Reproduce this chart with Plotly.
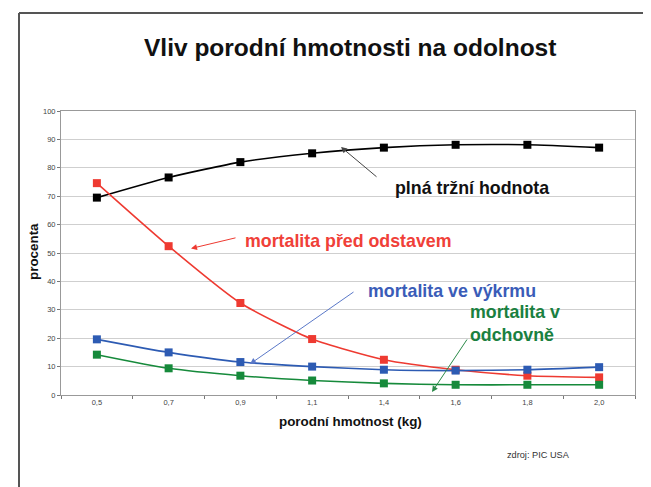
import plotly.graph_objects as go

categories = ["0,5", "0,7", "0,9", "1,1", "1,4", "1,6", "1,8", "2,0"]
plna_trzni = [69.5, 76.6, 82.0, 85.1, 87.1, 88.1, 88.1, 87.1]
mort_pred_odstavem = [74.6, 52.4, 32.4, 19.7, 12.4, 8.9, 6.8, 6.2]
mort_vykrm = [19.6, 15.0, 11.6, 10.0, 8.9, 8.6, 8.9, 9.8]
mort_odchovna = [14.2, 9.4, 6.8, 5.1, 4.1, 3.6, 3.6, 3.6]
y_ticks = list(range(0, 101, 10))

OFF = 8  # page body margin
W, H = 651 - OFF, 487 - OFF
L, R, T, B = 61, 635, 111, 395  # plot area in screen pixels

def px(x):
    return (x - L) / (R - L)

def py(y):
    return (B - y) / (B - T)

FONT = "Liberation Sans, Arial, sans-serif"
RED = "#ee3a31"
BLUE = "#2d5bb3"
GREEN = "#168a3b"

fig = go.Figure()
series = [
    (plna_trzni, "#000000", "plná tržní hodnota"),
    (mort_pred_odstavem, RED, "mortalita před odstavem"),
    (mort_vykrm, BLUE, "mortalita ve výkrmu"),
    (mort_odchovna, GREEN, "mortalita v odchovně"),
]
for vals, col, name in series:
    fig.add_trace(go.Scatter(
        x=categories, y=vals, mode="lines+markers", name=name,
        line=dict(color=col, width=1.6, shape="spline", smoothing=0.6),
        marker=dict(symbol="square", size=8, color=col),
        showlegend=False,
    ))

ann = []
ann.append(dict(text="<b>Vliv porodní hmotnosti na odolnost</b>", xref="paper", yref="paper",
                x=px(350), y=py(47), showarrow=False, xanchor="center", yanchor="middle",
                font=dict(family=FONT, size=24.5, color="#111")))

def label(text, x, y, col, size=17.8, anchor="left"):
    ann.append(dict(text=text, xref="paper", yref="paper", x=px(x), y=py(y),
                    showarrow=False, xanchor=anchor, yanchor="middle", align="left",
                    font=dict(family=FONT, size=size, color=col)))

label("<b>plná tržní hodnota</b>", 393, 188, "#111")
label("<b>mortalita před odstavem</b>", 243, 241, "#f04038")
label("<b>mortalita ve výkrmu</b>", 366, 291, "#3a5cb8")
label("<b>mortalita v<br>odchovně</b>", 468, 323, "#1a8040")
ann.append(dict(text="zdroj: PIC USA", xref="paper", yref="paper", x=px(505), y=py(455),
                showarrow=False, xanchor="left", yanchor="middle",
                font=dict(family=FONT, size=9.2, color="#333")))

def arrow(hx, hy, tx, ty, col):
    ann.append(dict(text="", xref="paper", yref="paper", x=px(hx), y=py(hy),
                    ax=tx - hx, ay=ty - hy, showarrow=True, arrowhead=2,
                    arrowsize=1.2, arrowwidth=1, arrowcolor=col))

arrow(341, 147, 378, 178, "#444")
arrow(191, 248.5, 237, 237.5, RED)
arrow(250, 364, 355, 291, "#5a78c8")
arrow(432, 392, 468, 338, "#2a8a48")

ann.append(dict(text="<b>porodní hmotnost (kg)</b>", xref="paper", yref="paper",
                x=px(350), y=py(421), showarrow=False, xanchor="center", yanchor="middle",
                font=dict(family=FONT, size=13.4, color="#111")))
ann.append(dict(text="<b>procenta</b>", xref="paper", yref="paper",
                x=px(33), y=py(252), showarrow=False, xanchor="center", yanchor="middle",
                textangle=-90, font=dict(family=FONT, size=13.4, color="#111")))

shapes = [
    dict(type="line", xref="paper", yref="paper", x0=px(19), y0=py(487), x1=px(19), y1=py(13),
         line=dict(color="#555", width=2)),
    dict(type="line", xref="paper", yref="paper", x0=px(19), y0=py(13), x1=px(651), y1=py(13),
         line=dict(color="#555", width=2)),
]

fig.update_layout(
    width=W, height=H,
    margin=dict(l=L - OFF, r=W - (R - OFF), t=T - OFF, b=H - (B - OFF), pad=0),
    paper_bgcolor="white", plot_bgcolor="white",
    annotations=ann, shapes=shapes,
    font=dict(family=FONT),
    xaxis=dict(type="category", range=[-0.5, 7.5], showgrid=False,
               showline=True, linecolor="#999", linewidth=1, mirror=True,
               ticks="outside", tickson="boundaries", ticklen=3, tickcolor="#777",
               tickfont=dict(size=7.5, color="#444"), fixedrange=True),
    yaxis=dict(range=[0, 100], tickvals=y_ticks, showgrid=True, gridcolor="#cfcfcf",
               gridwidth=1, showline=True, linecolor="#999", linewidth=1, mirror=True,
               ticks="outside", ticklen=3, tickcolor="#777", zeroline=False,
               tickfont=dict(size=7.5, color="#444"), fixedrange=True),
)

fig.write_html("out.html")
